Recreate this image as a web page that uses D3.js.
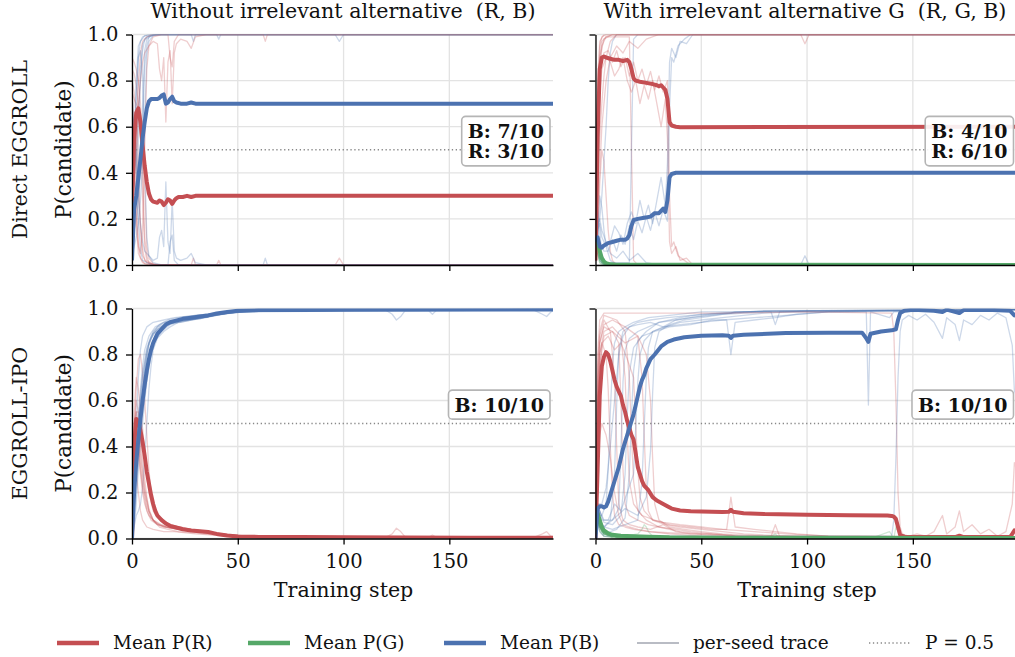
<!DOCTYPE html>
<html>
<head>
<meta charset="utf-8">
<script src="https://cdn.jsdelivr.net/npm/d3@7"></script>
<style>
  body { margin: 0; background: #fff; }
  svg { font-family: "DejaVu Serif", serif; }
</style>
</head>
<body>
<div id="chart"></div>
<script>
// Chart data.
// Mean series are [step, p]; per-seed rows are [step, pR, pB] or [step, pR, pG, pB].

const xTicks = [0, 50, 100, 150];
const yTicks = [0, 0.2, 0.4, 0.6, 0.8, 1.0];
const colTitles = ["Without irrelevant alternative  (R, B)", "With irrelevant alternative G  (R, G, B)"];
const rowTitles = ["Direct EGGROLL", "EGGROLL-IPO"];
const notesA = ["B: 7/10", "R: 3/10"];
const notesB = ["B: 4/10", "R: 6/10"];
const notesC = ["B: 10/10"];
const notesD = ["B: 10/10"];
const legendLabels = ["Mean P(R)", "Mean P(G)", "Mean P(B)", "per-seed trace", "P = 0.5"];

// ---- Direct EGGROLL, (R, B)
const meanA_R = [[0,0.25],[1,0.55],[2,0.66],[3,0.68],[4,0.62],[5,0.52],[6,0.43],[7,0.36],[8,0.31],[9,0.285],[10,0.275],[12,0.27],[13,0.28],[14,0.275],[15,0.26],[16,0.27],[17,0.285],[18,0.28],[19,0.265],[20,0.28],[21,0.29],[22,0.295],[24,0.295],[26,0.3],[28,0.295],[30,0.3],[199,0.3]];
const meanA_B = [[0,0.02],[1,0.24],[2,0.3],[3,0.38],[4,0.46],[5,0.55],[6,0.62],[7,0.68],[8,0.71],[9,0.72],[12,0.72],[13,0.725],[14,0.735],[15,0.74],[16,0.7],[17,0.705],[18,0.72],[19,0.73],[20,0.71],[21,0.705],[23,0.7],[26,0.7],[28,0.705],[30,0.7],[199,0.7]];
const seedsA = [
  [[0,0.75,0.2],[1,0.6,0.38],[2,0.35,0.62],[3,0.1,0.9],[4,0.03,0.97],[6,0.005,0.995],[10,0,1],[199,0,1]],
  [[0,0.8,0.15],[1,0.75,0.22],[2,0.65,0.33],[3,0.45,0.55],[4,0.15,0.85],[5,0.04,0.96],[7,0.01,0.99],[12,0,1],[199,0,1]],
  [[0,0.7,0.25],[1,0.6,0.38],[2,0.5,0.48],[3,0.3,0.68],[4,0.18,0.8],[5,0.07,0.93],[6,0.02,0.98],[9,0,1],[40,0,1],[41,0.02,0.98],[42,0,1],[199,0,1]],
  [[0,0.85,0.1],[1,0.83,0.15],[2,0.78,0.2],[3,0.7,0.28],[4,0.58,0.4],[5,0.3,0.68],[6,0.07,0.93],[7,0.02,0.98],[10,0,1],[199,0,1]],
  [[0,0.65,0.3],[1,0.45,0.52],[2,0.18,0.8],[3,0.05,0.95],[5,0.01,0.99],[8,0,1],[96,0,1],[98,0.03,0.97],[100,0,1],[199,0,1]],
  [[0,0.75,0.2],[1,0.72,0.25],[2,0.7,0.28],[3,0.68,0.3],[4,0.55,0.43],[5,0.42,0.56],[6,0.12,0.86],[7,0.04,0.95],[8,0.01,0.99],[11,0,1],[28,0,1],[29,0.03,0.97],[30,0,1],[199,0,1]],
  [[0,0.9,0.05],[1,0.88,0.08],[2,0.85,0.12],[3,0.8,0.18],[4,0.7,0.28],[5,0.55,0.44],[6,0.35,0.62],[7,0.08,0.91],[8,0.03,0.97],[10,0.005,0.995],[13,0,1],[199,0,1]],
  [[0,0.2,0.75],[1,0.4,0.58],[2,0.55,0.43],[3,0.78,0.2],[4,0.92,0.07],[5,0.97,0.02],[7,0.99,0.01],[10,1,0],[17,1,0],[18,0.9,0.1],[19,0.86,0.13],[20,0.97,0.02],[22,1,0],[62,1,0],[63,0.97,0.03],[64,1,0],[199,1,0]],
  [[0,0.3,0.65],[1,0.35,0.62],[2,0.5,0.47],[3,0.65,0.33],[4,0.8,0.18],[5,0.88,0.1],[6,0.92,0.06],[8,0.95,0.04],[10,0.97,0.02],[12,0.96,0.03],[13,0.85,0.12],[14,0.8,0.15],[15,0.9,0.08],[16,0.62,0.36],[17,0.88,0.1],[18,0.93,0.05],[19,0.7,0.28],[20,0.92,0.06],[21,0.96,0.03],[23,0.98,0.02],[26,0.97,0.03],[28,0.94,0.05],[30,0.99,0.01],[35,1,0],[199,1,0]],
  [[0,0.7,0.25],[1,0.45,0.5],[2,0.2,0.75],[3,0.08,0.9],[4,0.05,0.93],[5,0.15,0.82],[6,0.5,0.45],[7,0.85,0.12],[8,0.95,0.04],[10,0.99,0.01],[14,1,0],[199,1,0]]
];

// ---- Direct EGGROLL, (R, G, B)
const meanB_R = [[0,0.02],[1,0.55],[2,0.85],[3,0.9],[4,0.905],[5,0.9],[7,0.895],[9,0.89],[11,0.89],[13,0.885],[15,0.89],[16,0.88],[17,0.85],[18,0.81],[19,0.8],[21,0.795],[24,0.79],[27,0.785],[29,0.78],[30,0.775],[31,0.78],[32,0.77],[33,0.76],[34,0.72],[35,0.62],[36,0.605],[38,0.6],[40,0.598],[199,0.6]];
const meanB_G = [[0,0.12],[1,0.1],[2,0.06],[3,0.03],[4,0.015],[5,0.008],[7,0.003],[10,0.001],[199,0]];
const meanB_B = [[0,0.1],[1,0.12],[2,0.08],[3,0.075],[4,0.085],[6,0.095],[8,0.1],[10,0.105],[12,0.11],[14,0.11],[15,0.115],[16,0.13],[17,0.17],[18,0.195],[20,0.2],[23,0.205],[26,0.21],[28,0.225],[30,0.225],[31,0.235],[32,0.245],[33,0.23],[34,0.28],[35,0.38],[36,0.395],[38,0.4],[199,0.4]];
const seedsB = [
  [[0,0.02,0.12,0.1],[1,0.1,0.1,0.15],[2,0.35,0.05,0.2],[3,0.5,0.02,0.3],[4,0.45,0.01,0.45],[5,0.3,0.01,0.6],[6,0.15,0,0.8],[7,0.06,0,0.92],[8,0.02,0,0.97],[10,0,0,1],[199,0,0,1]],
  [[0,0.02,0.1,0.05],[1,0.6,0.05,0.05],[2,0.9,0.02,0.03],[3,0.97,0.01,0.02],[5,0.99,0,0.01],[16,0.99,0,0.01],[17,0.5,0,0.5],[18,0.02,0,0.98],[20,0,0,1],[199,0,0,1]],
  [[0,0.02,0.15,0.1],[1,0.4,0.08,0.15],[2,0.75,0.04,0.18],[3,0.85,0.02,0.12],[5,0.9,0.01,0.08],[7,0.88,0,0.1],[9,0.82,0,0.17],[11,0.85,0,0.14],[13,0.9,0,0.09],[15,0.8,0,0.18],[17,0.75,0,0.23],[19,0.8,0,0.18],[21,0.7,0,0.28],[23,0.78,0,0.2],[25,0.72,0,0.26],[27,0.8,0,0.18],[29,0.7,0,0.28],[31,0.6,0,0.38],[33,0.72,0,0.26],[34,0.55,0,0.44],[35,0.1,0,0.88],[36,0.05,0,0.94],[38,0.08,0,0.9],[40,0.02,0,0.97],[43,0.03,0,0.96],[46,0,0,1],[199,0,0,1]],
  [[0,0.02,0.1,0.08],[1,0.5,0.06,0.1],[2,0.85,0.03,0.1],[4,0.92,0.01,0.06],[6,0.93,0,0.06],[8,0.88,0,0.11],[10,0.93,0,0.06],[12,0.86,0,0.13],[14,0.9,0,0.09],[16,0.82,0,0.17],[18,0.88,0,0.11],[20,0.8,0,0.19],[22,0.85,0,0.14],[24,0.78,0,0.21],[26,0.84,0,0.15],[28,0.76,0,0.23],[30,0.82,0,0.17],[32,0.75,0,0.24],[34,0.8,0,0.19],[35,0.3,0,0.68],[36,0.08,0,0.9],[37,0.1,0,0.88],[39,0.04,0,0.95],[42,0.02,0,0.98],[45,0,0,1],[199,0,0,1]],
  [[0,0.02,0.1,0.1],[1,0.7,0.05,0.2],[2,0.95,0.01,0.04],[3,0.99,0,0.01],[5,1,0,0],[199,1,0,0]],
  [[0,0.02,0.12,0.12],[1,0.5,0.08,0.25],[2,0.8,0.03,0.15],[3,0.95,0.01,0.04],[5,0.99,0,0.01],[8,1,0,0],[199,1,0,0]],
  [[0,0.02,0.1,0.05],[1,0.3,0.08,0.12],[2,0.55,0.05,0.3],[3,0.7,0.02,0.25],[4,0.82,0.01,0.15],[5,0.9,0,0.08],[7,0.97,0,0.02],[10,1,0,0],[199,1,0,0]],
  [[0,0.02,0.15,0.08],[1,0.8,0.05,0.1],[2,0.97,0.01,0.02],[4,1,0,0],[97,1,0,0],[99,0.96,0,0.04],[101,1,0,0],[199,1,0,0]],
  [[0,0.02,0.08,0.1],[1,0.6,0.05,0.08],[2,0.9,0.02,0.05],[4,0.98,0,0.01],[8,1,0,0],[199,1,0,0]],
  [[0,0.02,0.1,0.15],[2,0.4,0.05,0.2],[3,0.6,0.03,0.15],[5,0.8,0.01,0.1],[7,0.9,0,0.05],[10,0.95,0,0.03],[13,0.92,0,0.06],[16,0.97,0,0.02],[20,0.94,0,0.05],[24,0.98,0,0.01],[30,1,0,0],[199,1,0,0]]
];

// ---- EGGROLL-IPO, (R, B)
const meanC_R = [[0,0],[1,0.4],[2,0.52],[3,0.51],[4,0.47],[5,0.42],[6,0.36],[7,0.29],[8,0.24],[9,0.19],[10,0.15],[11,0.12],[12,0.1],[14,0.08],[16,0.065],[18,0.055],[20,0.05],[24,0.04],[28,0.035],[32,0.032],[36,0.028],[40,0.02],[45,0.013],[50,0.009],[60,0.007],[80,0.006],[100,0.005],[130,0.004],[160,0.003],[199,0.003]];
const meanC_B = [[0,0],[1,0.2],[2,0.33],[3,0.43],[4,0.52],[5,0.6],[6,0.67],[7,0.73],[8,0.78],[9,0.82],[10,0.85],[11,0.87],[12,0.89],[14,0.91],[16,0.93],[18,0.94],[20,0.945],[24,0.955],[28,0.96],[32,0.965],[36,0.97],[40,0.978],[45,0.985],[50,0.99],[60,0.993],[80,0.994],[100,0.995],[199,0.996]];
const seedsC = [
  [[0,0,0],[1,0.5,0.15],[2,0.6,0.3],[3,0.55,0.42],[4,0.45,0.53],[5,0.35,0.63],[6,0.26,0.72],[7,0.18,0.8],[8,0.13,0.85],[10,0.08,0.9],[13,0.05,0.93],[17,0.04,0.95],[22,0.03,0.96],[30,0.025,0.97],[40,0.015,0.98],[50,0.01,0.99],[80,0.005,0.995],[199,0.003,0.997]],
  [[0,0,0],[1,0.35,0.3],[2,0.3,0.5],[3,0.2,0.7],[4,0.12,0.82],[5,0.08,0.88],[7,0.05,0.92],[10,0.04,0.94],[15,0.03,0.95],[20,0.03,0.96],[30,0.02,0.97],[45,0.01,0.985],[60,0.005,0.99],[199,0.002,0.998]],
  [[0,0,0],[1,0.4,0.05],[2,0.65,0.1],[3,0.78,0.12],[4,0.8,0.15],[5,0.72,0.22],[6,0.6,0.35],[7,0.45,0.5],[8,0.3,0.65],[9,0.2,0.75],[10,0.14,0.82],[12,0.1,0.87],[15,0.08,0.9],[18,0.06,0.92],[22,0.05,0.94],[28,0.04,0.95],[35,0.03,0.96],[45,0.015,0.98],[60,0.008,0.99],[199,0.004,0.995]],
  [[0,0,0],[1,0.45,0.1],[2,0.55,0.2],[3,0.55,0.35],[4,0.5,0.45],[5,0.42,0.55],[6,0.35,0.62],[8,0.2,0.77],[10,0.12,0.86],[12,0.09,0.9],[15,0.07,0.92],[20,0.05,0.94],[25,0.04,0.95],[32,0.035,0.955],[40,0.02,0.975],[55,0.008,0.99],[199,0.003,0.997]],
  [[0,0,0],[1,0.3,0.25],[2,0.4,0.4],[3,0.35,0.55],[4,0.28,0.65],[5,0.2,0.75],[6,0.15,0.82],[8,0.1,0.88],[11,0.07,0.92],[15,0.05,0.94],[20,0.045,0.95],[26,0.04,0.955],[34,0.03,0.965],[42,0.02,0.975],[50,0.01,0.99],[199,0.004,0.996]],
  [[0,0,0],[1,0.55,0.05],[2,0.7,0.15],[3,0.65,0.3],[4,0.55,0.42],[5,0.48,0.5],[6,0.38,0.6],[7,0.3,0.68],[9,0.18,0.8],[11,0.12,0.86],[14,0.08,0.9],[18,0.06,0.93],[24,0.045,0.945],[30,0.035,0.955],[38,0.025,0.97],[48,0.012,0.985],[199,0.003,0.997]],
  [[0,0,0],[1,0.4,0.2],[2,0.5,0.35],[3,0.42,0.5],[4,0.32,0.62],[5,0.24,0.72],[7,0.14,0.83],[9,0.09,0.88],[12,0.06,0.92],[16,0.05,0.94],[22,0.04,0.955],[30,0.03,0.965],[40,0.02,0.975],[55,0.01,0.99],[80,0.006,0.993],[120,0.005,0.993],[123,0.02,0.975],[125,0.045,0.95],[127,0.03,0.965],[129,0.008,0.99],[199,0.004,0.995]],
  [[0,0,0],[1,0.35,0.2],[2,0.45,0.38],[3,0.4,0.5],[4,0.3,0.6],[5,0.22,0.7],[7,0.12,0.82],[9,0.08,0.87],[12,0.06,0.91],[16,0.05,0.93],[22,0.04,0.945],[30,0.03,0.955],[40,0.02,0.97],[50,0.01,0.985],[70,0.005,0.99],[140,0.004,0.992],[142,0.015,0.975],[144,0.004,0.993],[199,0.003,0.995]],
  [[0,0,0],[1,0.5,0.15],[2,0.55,0.28],[3,0.5,0.4],[4,0.4,0.52],[5,0.3,0.62],[6,0.22,0.72],[8,0.12,0.84],[10,0.08,0.89],[13,0.06,0.92],[18,0.045,0.94],[24,0.04,0.95],[32,0.03,0.96],[42,0.02,0.975],[55,0.01,0.988],[100,0.006,0.992],[190,0.005,0.993],[194,0.02,0.975],[196,0.03,0.965],[198,0.01,0.985],[199,0.008,0.99]],
  [[0,0,0],[1,0.45,0.25],[2,0.48,0.38],[3,0.45,0.48],[4,0.36,0.58],[5,0.28,0.67],[6,0.2,0.75],[8,0.12,0.85],[10,0.08,0.89],[14,0.06,0.92],[18,0.05,0.935],[23,0.05,0.94],[28,0.04,0.95],[36,0.03,0.965],[46,0.015,0.98],[60,0.008,0.99],[199,0.003,0.996]]
];

// ---- EGGROLL-IPO, (R, G, B)
const meanD_R = [[0,0],[1,0.3],[2,0.62],[3,0.75],[4,0.79],[5,0.81],[6,0.8],[7,0.77],[8,0.73],[9,0.69],[10,0.66],[11,0.64],[12,0.62],[13,0.58],[14,0.55],[15,0.51],[16,0.48],[17,0.45],[18,0.43],[19,0.37],[20,0.31],[21,0.28],[22,0.25],[23,0.23],[25,0.21],[27,0.18],[29,0.165],[32,0.15],[36,0.13],[40,0.122],[45,0.118],[50,0.117],[60,0.115],[63,0.116],[64,0.125],[65,0.116],[70,0.11],[80,0.106],[100,0.103],[120,0.101],[138,0.1],[140,0.098],[141,0.095],[142,0.085],[143,0.05],[144,0.015],[146,0.008],[150,0.006],[170,0.006],[172,0.012],[174,0.006],[196,0.006],[197,0.02],[198,0.035],[199,0.03]];
const meanD_G = [[0,0.02],[1,0.11],[2,0.08],[3,0.05],[4,0.035],[6,0.022],[8,0.016],[12,0.012],[18,0.01],[25,0.008],[35,0.005],[60,0.003],[199,0.002]];
const meanD_B = [[0,0],[1,0.13],[2,0.14],[3,0.14],[4,0.135],[5,0.14],[6,0.16],[7,0.19],[8,0.22],[9,0.25],[10,0.28],[11,0.31],[12,0.35],[13,0.39],[14,0.42],[15,0.45],[16,0.48],[17,0.51],[18,0.54],[19,0.58],[20,0.62],[21,0.66],[22,0.69],[23,0.71],[24,0.74],[26,0.78],[28,0.8],[31,0.835],[34,0.855],[37,0.865],[42,0.875],[50,0.882],[60,0.884],[63,0.882],[64,0.872],[65,0.882],[70,0.886],[90,0.893],[110,0.895],[126,0.895],[128,0.87],[129,0.855],[130,0.89],[135,0.9],[140,0.905],[142,0.91],[143,0.95],[144,0.98],[146,0.99],[150,0.995],[160,0.99],[164,0.985],[166,0.995],[172,0.98],[174,0.993],[185,0.995],[196,0.99],[198,0.97],[199,0.975]];
const seedsD = [
  [[0,0,0.05,0.05],[1,0.55,0.15,0.12],[2,0.8,0.06,0.1],[3,0.85,0.03,0.1],[5,0.8,0.02,0.15],[6,0.65,0.01,0.3],[7,0.4,0.01,0.55],[8,0.2,0,0.75],[9,0.1,0,0.85],[11,0.06,0,0.9],[14,0.05,0,0.92],[18,0.04,0,0.94],[25,0.03,0,0.96],[35,0.02,0,0.97],[50,0.01,0,0.985],[199,0.003,0,0.995]],
  [[0,0,0.08,0.1],[1,0.7,0.12,0.15],[2,0.88,0.05,0.08],[4,0.95,0.02,0.05],[7,0.9,0.01,0.08],[9,0.7,0,0.28],[10,0.4,0,0.58],[11,0.15,0,0.82],[13,0.08,0,0.9],[16,0.06,0,0.92],[20,0.05,0,0.93],[26,0.04,0,0.94],[32,0.06,0,0.92],[38,0.03,0,0.95],[45,0.02,0,0.96],[55,0.02,0,0.97],[65,0.01,0,0.98],[80,0.005,0,0.99],[199,0.003,0,0.995]],
  [[0,0,0.06,0.1],[1,0.6,0.1,0.12],[2,0.85,0.05,0.08],[4,0.92,0.02,0.05],[8,0.9,0.01,0.08],[11,0.85,0,0.13],[12,0.6,0,0.38],[13,0.3,0,0.68],[14,0.15,0,0.82],[16,0.1,0,0.87],[20,0.08,0,0.9],[25,0.06,0,0.92],[30,0.05,0,0.94],[38,0.04,0,0.95],[45,0.03,0,0.96],[55,0.02,0,0.975],[64,0.015,0,0.98],[66,0.01,0,0.985],[90,0.006,0,0.99],[199,0.003,0,0.995]],
  [[0,0,0.1,0.12],[1,0.5,0.1,0.15],[2,0.8,0.05,0.12],[4,0.9,0.02,0.07],[8,0.92,0.01,0.06],[12,0.88,0,0.1],[14,0.7,0,0.28],[15,0.45,0,0.53],[16,0.25,0,0.72],[18,0.15,0,0.83],[22,0.1,0,0.88],[28,0.08,0,0.9],[35,0.06,0,0.92],[45,0.05,0,0.93],[55,0.04,0,0.95],[62,0.04,0,0.95],[64,0.18,0,0.8],[66,0.05,0,0.94],[75,0.04,0,0.95],[85,0.03,0,0.96],[95,0.02,0,0.975],[110,0.01,0,0.985],[199,0.004,0,0.995]],
  [[0,0,0.05,0.08],[1,0.75,0.08,0.1],[2,0.9,0.04,0.05],[4,0.97,0.01,0.02],[10,0.95,0,0.04],[14,0.9,0,0.09],[16,0.7,0,0.28],[17,0.45,0,0.53],[18,0.25,0,0.73],[20,0.12,0,0.86],[24,0.08,0,0.9],[30,0.05,0,0.94],[40,0.03,0,0.96],[50,0.02,0,0.975],[70,0.01,0,0.985],[83,0.01,0.01,0.985],[85,0.06,0.02,0.93],[87,0.01,0,0.985],[199,0.003,0,0.995]],
  [[0,0,0.12,0.1],[1,0.4,0.15,0.12],[2,0.7,0.08,0.12],[3,0.85,0.04,0.08],[6,0.88,0.02,0.08],[9,0.82,0.01,0.15],[12,0.85,0,0.12],[15,0.78,0,0.2],[18,0.7,0,0.28],[19,0.5,0,0.48],[20,0.3,0,0.68],[21,0.18,0,0.8],[23,0.12,0,0.86],[27,0.08,0,0.9],[33,0.06,0,0.92],[40,0.05,0,0.94],[50,0.04,0,0.95],[60,0.03,0,0.96],[70,0.02,0,0.97],[80,0.015,0,0.98],[100,0.008,0,0.99],[199,0.003,0,0.995]],
  [[0,0,0.08,0.12],[1,0.6,0.1,0.14],[2,0.85,0.05,0.08],[4,0.93,0.02,0.05],[8,0.95,0.01,0.04],[14,0.92,0.01,0.06],[20,0.88,0.02,0.08],[22,0.7,0.04,0.25],[23,0.45,0.06,0.48],[24,0.22,0.05,0.7],[25,0.12,0.03,0.83],[27,0.08,0.01,0.9],[32,0.07,0,0.92],[40,0.06,0,0.93],[50,0.05,0,0.94],[60,0.04,0,0.95],[75,0.03,0,0.96],[90,0.02,0,0.97],[110,0.01,0,0.985],[199,0.004,0,0.995]],
  [[0,0,0.1,0.15],[1,0.5,0.12,0.15],[2,0.75,0.06,0.12],[4,0.88,0.02,0.08],[8,0.9,0.01,0.08],[14,0.85,0,0.13],[20,0.88,0,0.1],[24,0.8,0,0.18],[26,0.6,0,0.38],[27,0.35,0,0.63],[28,0.15,0,0.83],[30,0.08,0,0.9],[35,0.05,0,0.93],[42,0.04,0,0.95],[50,0.03,0,0.96],[60,0.02,0,0.975],[80,0.01,0,0.985],[128,0.01,0,0.985],[129,0.01,0,0.58],[130,0.01,0,0.985],[139,0.01,0.03,0.96],[141,0.01,0,0.985],[199,0.004,0,0.995]],
  [[0,0,0.15,0.12],[1,0.3,0.12,0.15],[2,0.45,0.06,0.15],[3,0.5,0.03,0.15],[5,0.45,0.02,0.22],[7,0.35,0.01,0.4],[9,0.2,0.01,0.6],[11,0.1,0,0.8],[13,0.06,0,0.88],[16,0.05,0,0.92],[20,0.04,0,0.94],[26,0.03,0,0.95],[34,0.025,0,0.96],[45,0.02,0,0.97],[60,0.01,0,0.98],[80,0.005,0,0.99],[199,0.003,0,0.995]],
  [[0,0,0.1,0.1],[1,0.8,0.08,0.08],[2,0.95,0.03,0.03],[4,0.98,0.01,0.01],[20,0.98,0,0.01],[60,0.98,0,0.01],[100,0.985,0,0.01],[140,0.98,0,0.01],[141,0.9,0,0.08],[142,0.6,0.05,0.35],[143,0.2,0.03,0.7],[144,0.05,0.01,0.9],[145,0.02,0,0.95],[148,0.01,0,0.97],[152,0.02,0,0.95],[156,0.01,0,0.975],[160,0.03,0,0.94],[164,0.1,0,0.87],[166,0.02,0,0.96],[170,0.05,0,0.93],[172,0.12,0,0.86],[174,0.03,0,0.95],[178,0.06,0,0.93],[182,0.02,0,0.97],[186,0.04,0,0.95],[190,0.01,0,0.98],[194,0.03,0,0.96],[197,0.15,0,0.84],[198,0.33,0,0.64],[199,0.3,0,0.62]]
];

// ---- Layout
const width = 1015;
const height = 657;
const xDomain = [0, 199];
const colR = "#c44e52", colG = "#55a868", colB = "#4c72b0";
const fontTick = 19.5;
const fontLabel = 20.6;

const svg = d3.select("#chart")
  .append("svg")
  .attr("width", width)
  .attr("height", height)
  .attr("font-family", "DejaVu Serif");

const panels = [
  {id: "A", left: 132, right: 553, top: 34.5, bottom: 265, row: 0, col: 0,
   seeds: seedsA, seedCols: [colR, colB], means: [[meanA_R, colR], [meanA_B, colB]], notes: notesA},
  {id: "B", left: 595.5, right: 1016.5, top: 34.5, bottom: 265, row: 0, col: 1,
   seeds: seedsB, seedCols: [colR, colG, colB], means: [[meanB_R, colR], [meanB_G, colG], [meanB_B, colB]], notes: notesB},
  {id: "C", left: 132, right: 553, top: 308.5, bottom: 538.5, row: 1, col: 0,
   seeds: seedsC, seedCols: [colR, colB], means: [[meanC_R, colR], [meanC_B, colB]], notes: notesC},
  {id: "D", left: 595.5, right: 1016.5, top: 308.5, bottom: 538.5, row: 1, col: 1,
   seeds: seedsD, seedCols: [colR, colG, colB], means: [[meanD_R, colR], [meanD_G, colG], [meanD_B, colB]], notes: notesD}
];

panels.forEach(drawPanel);

function drawPanel(p) {
  const x = d3.scaleLinear().domain(xDomain).range([p.left, p.right]);
  const y = d3.scaleLinear().domain([0, 1]).range([p.bottom, p.top]);
  const g = svg.append("g");

  // grid
  g.selectAll(".gy").data(yTicks).enter().append("line")
    .attr("x1", p.left).attr("x2", p.right)
    .attr("y1", d => y(d)).attr("y2", d => y(d))
    .attr("stroke", "#e3e3e3").attr("stroke-width", 1.3);
  g.selectAll(".gx").data(xTicks).enter().append("line")
    .attr("x1", d => x(d)).attr("x2", d => x(d))
    .attr("y1", p.top).attr("y2", p.bottom)
    .attr("stroke", "#e3e3e3").attr("stroke-width", 1.3);

  // clip to the axes box
  const clipId = "clip" + p.id;
  svg.append("clipPath").attr("id", clipId).append("rect")
    .attr("x", p.left).attr("y", p.top)
    .attr("width", p.right - p.left).attr("height", p.bottom - p.top);
  const plot = g.append("g").attr("clip-path", `url(#${clipId})`);

  // per-seed traces
  p.seeds.forEach(rows => {
    p.seedCols.forEach((c, k) => {
      const line = d3.line().x(d => x(d[0])).y(d => y(d[k + 1]));
      plot.append("path").datum(rows)
        .attr("d", line)
        .attr("fill", "none")
        .attr("stroke", c)
        .attr("stroke-opacity", 0.28)
        .attr("stroke-width", 1.3)
        .attr("stroke-linejoin", "round");
    });
  });

  // P = 0.5 reference
  plot.append("line")
    .attr("x1", p.left).attr("x2", p.right)
    .attr("y1", y(0.5)).attr("y2", y(0.5))
    .attr("stroke", "#888").attr("stroke-width", 1.3)
    .attr("stroke-dasharray", "1.3,2.6");

  // means
  p.means.forEach(([data, c]) => {
    const line = d3.line().x(d => x(d[0])).y(d => y(d[1]));
    plot.append("path").datum(data)
      .attr("d", line)
      .attr("fill", "none")
      .attr("stroke", c)
      .attr("stroke-width", 4)
      .attr("stroke-linejoin", "round");
  });

  // axes
  const yAxis = g.append("g")
    .attr("transform", `translate(${p.left},0)`)
    .call(d3.axisLeft(y).tickValues(yTicks).tickSize(6).tickSizeOuter(0).tickPadding(7.5)
      .tickFormat(p.col === 0 ? d3.format(".1f") : () => ""));
  const xAxis = g.append("g")
    .attr("transform", `translate(0,${p.bottom})`)
    .call(d3.axisBottom(x).tickValues(xTicks).tickSize(6).tickSizeOuter(0).tickPadding(10)
      .tickFormat(p.row === 1 ? d3.format("d") : () => ""));
  [yAxis, xAxis].forEach(a => {
    a.attr("font-family", "DejaVu Serif").attr("font-size", fontTick);
    a.selectAll("line").attr("stroke", "#000").attr("stroke-width", 1.3);
    a.select(".domain").attr("stroke", "#000").attr("stroke-width", 1.3);
    a.selectAll("text").attr("fill", "#111");
  });

  if (p.col === 0) {
    svg.append("text")
      .attr("transform", `translate(71,${(p.top + p.bottom) / 2}) rotate(-90)`)
      .attr("text-anchor", "middle")
      .attr("font-size", 21.5).attr("fill", "#111")
      .text("P(candidate)");
    svg.append("text")
      .attr("transform", `translate(27,${(p.top + p.bottom) / 2}) rotate(-90)`)
      .attr("text-anchor", "middle")
      .attr("font-size", fontLabel).attr("fill", "#111")
      .text(rowTitles[p.row]);
  }
  if (p.row === 0) {
    svg.append("text")
      .attr("x", p.col === 0 ? 343 : 805)
      .attr("y", 18)
      .attr("text-anchor", "middle")
      .attr("font-size", fontLabel).attr("fill", "#111")
      .style("white-space", "pre")
      .text(colTitles[p.col]);
  } else {
    svg.append("text")
      .attr("x", x(100))
      .attr("y", 597)
      .attr("text-anchor", "middle")
      .attr("font-size", fontLabel).attr("fill", "#111")
      .text("Training step");
  }

  // winner-count note
  const note = g.append("g");
  const boxRight = p.right - 3;
  const boxTop = y(0.645);
  const txt = note.append("text")
    .attr("font-size", 19).attr("font-weight", "bold").attr("fill", "#111")
    .attr("text-anchor", "middle");
  p.notes.forEach((t, i) => {
    txt.append("tspan").attr("x", 0).attr("y", i * 20.5).text(t);
  });
  const bb = txt.node().getBBox();
  const bw = bb.width + 12, bh = bb.height + 7;
  const cx = boxRight - bw / 2;
  txt.attr("transform", `translate(${cx},${boxTop + 3.5 - bb.y})`);
  note.insert("rect", "text")
    .attr("x", boxRight - bw).attr("y", boxTop)
    .attr("width", bw).attr("height", bh)
    .attr("rx", 4).attr("ry", 4)
    .attr("fill", "#fff").attr("fill-opacity", 0.9)
    .attr("stroke", "#b5b5b5").attr("stroke-width", 1.6);
}

// ---- Legend
const legendX = [57, 248, 444, 637, 869];
const legendY = 643;
const legendStyle = [
  {stroke: colR, w: 4.3, dash: null, op: 1},
  {stroke: colG, w: 4.3, dash: null, op: 1},
  {stroke: colB, w: 4.3, dash: null, op: 1},
  {stroke: "#8a8f9c", w: 1.8, dash: null, op: 0.6},
  {stroke: "#888", w: 1.3, dash: "1.3,2.6", op: 1}
];
const legend = svg.append("g");
legendLabels.forEach((lab, i) => {
  const s = legendStyle[i];
  legend.append("line")
    .attr("x1", legendX[i]).attr("x2", legendX[i] + 42)
    .attr("y1", legendY).attr("y2", legendY)
    .attr("stroke", s.stroke).attr("stroke-width", s.w)
    .attr("stroke-opacity", s.op)
    .attr("stroke-dasharray", s.dash);
  legend.append("text")
    .attr("x", legendX[i] + 56).attr("y", legendY)
    .attr("dy", "0.35em")
    .attr("font-size", 18.5).attr("fill", "#111")
    .text(lab);
});
</script>
</body>
</html>
